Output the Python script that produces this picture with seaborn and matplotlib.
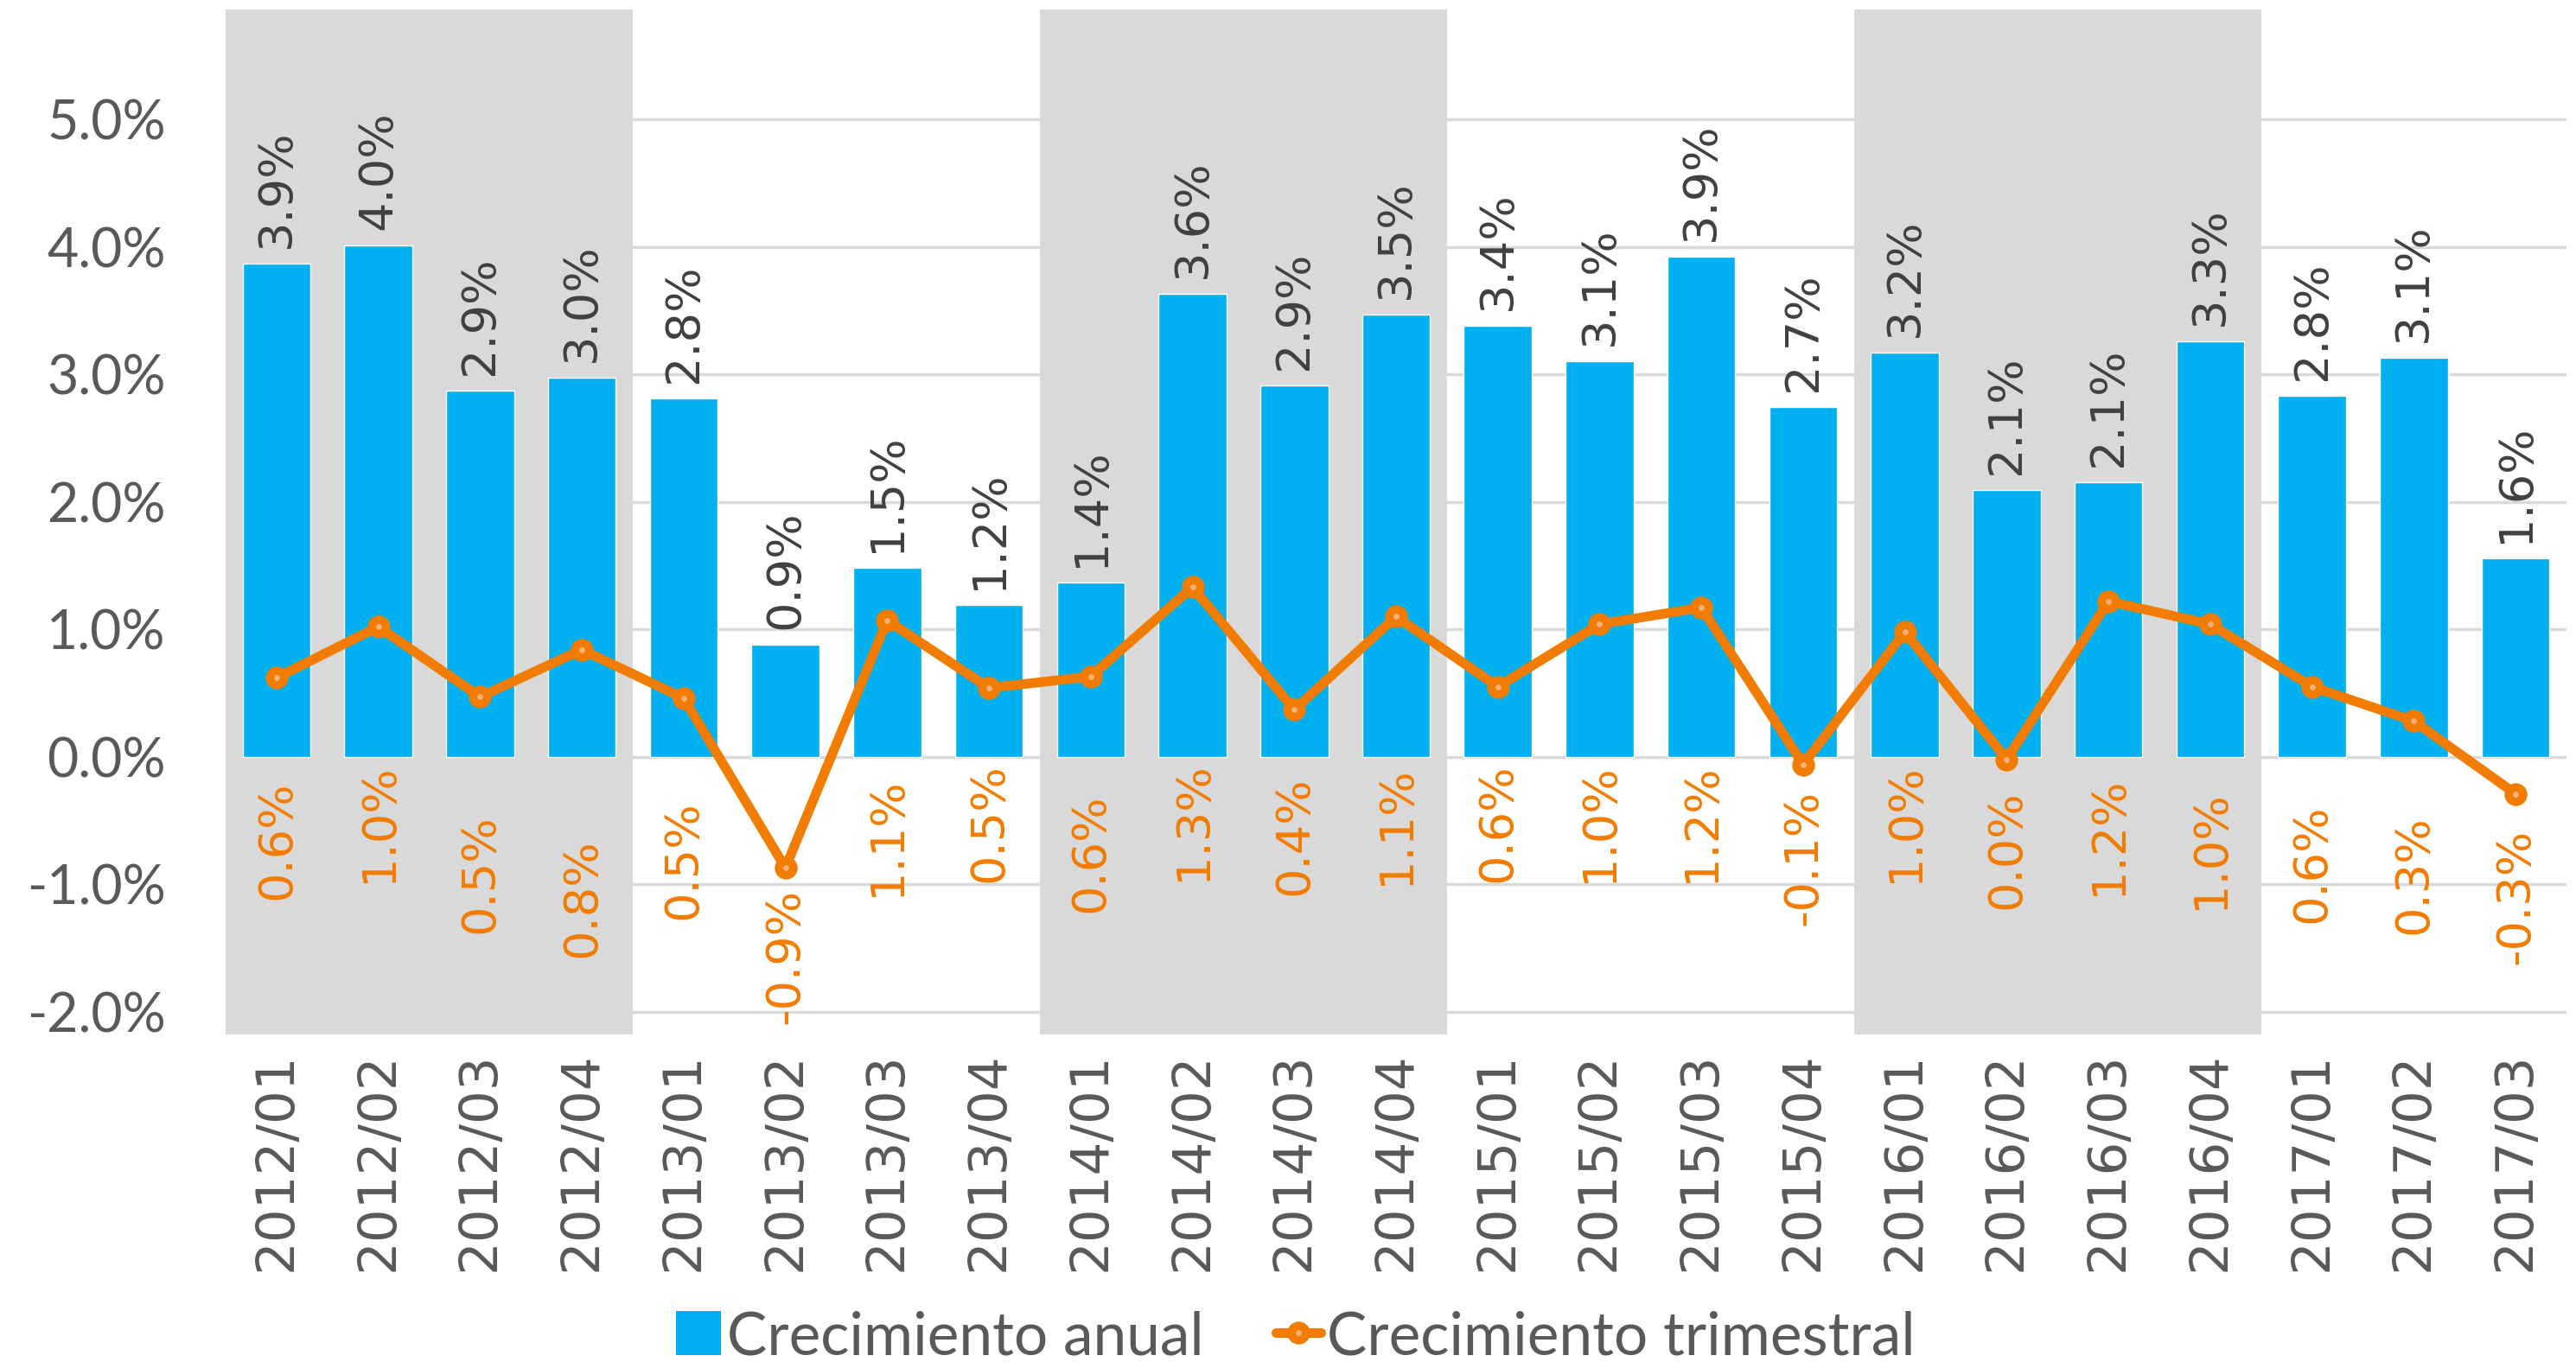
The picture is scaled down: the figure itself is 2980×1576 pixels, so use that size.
import numpy as np
import pandas as pd
import matplotlib
matplotlib.use("Agg")
import matplotlib.pyplot as plt
from matplotlib.patches import Patch
from matplotlib.lines import Line2D
import seaborn as sns

# data (in %)
quarters = ['2012/01', '2012/02', '2012/03', '2012/04',
            '2013/01', '2013/02', '2013/03', '2013/04',
            '2014/01', '2014/02', '2014/03', '2014/04',
            '2015/01', '2015/02', '2015/03', '2015/04',
            '2016/01', '2016/02', '2016/03', '2016/04',
            '2017/01', '2017/02', '2017/03']
anual = [3.87, 4.01, 2.87, 2.97, 2.81, 0.88, 1.48, 1.19, 1.37, 3.63, 2.91, 3.47,
         3.38, 3.10, 3.92, 2.74, 3.17, 2.09, 2.15, 3.26, 2.83, 3.13, 1.56]
trimestral = [0.62, 1.02, 0.47, 0.84, 0.46, -0.87, 1.07, 0.54, 0.63, 1.33, 0.37, 1.10,
              0.55, 1.04, 1.17, -0.06, 0.98, -0.02, 1.22, 1.04, 0.55, 0.28, -0.29]
shaded_years = ['2012', '2014', '2016']

# where the orange labels start (top of the rotated text), in axis units
trim_label_top = [-0.19, -0.05, -0.45, -0.64, -0.34, -1.03, -0.16, -0.05,
                  -0.29, -0.04, -0.15, -0.07, -0.05, -0.05, -0.05, -0.26,
                  -0.05, -0.26, -0.15, -0.26, -0.37, -0.46, -0.56]

df = pd.DataFrame({'trimestre': quarters, 'anual': anual, 'trimestral': trimestral})
df['pos'] = np.arange(len(df))

BLUE = '#00B0F0'
ORANGE = '#F27C00'
GREY = '#D9D9D9'
TXT = '#595959'


def pct(v):
    s = f'{v:.1f}%'
    return '0.0%' if s == '-0.0%' else s


sns.set_style('white')
plt.rcParams['font.family'] = ['DejaVu Sans']

fig = plt.figure(figsize=(29.8, 15.76), dpi=100)
ax = fig.add_axes([0.0876, 0.2402, 0.9087, 0.7528])

# gridlines first, the grey year bands go over them
for g in range(-2, 6):
    ax.axhline(g, color=GREY, lw=2.5, zorder=0)

years = df['trimestre'].str[:4]
for y in shaded_years:
    idx = df.loc[years == y, 'pos']
    ax.axvspan(idx.min() - 0.5, idx.max() + 0.5, color=GREY, lw=0, zorder=1)

sns.barplot(data=df, x='trimestre', y='anual', color=BLUE, saturation=1,
            width=0.667, ax=ax, zorder=2)
for p in ax.patches:
    p.set_zorder(2)

line_style = dict(color=ORANGE, lw=8, marker='o', markersize=12,
                  markeredgewidth=7, markerfacecolor='#F6B27A',
                  markeredgecolor=ORANGE)
sns.lineplot(x=df['pos'], y=df['trimestral'], sort=False, ax=ax, zorder=4,
             **line_style)

# labels
for i, v in enumerate(df['anual']):
    ax.annotate(pct(v), (i, v), xytext=(0, 13), textcoords='offset points',
                rotation=90, ha='center', va='bottom', fontsize=39,
                color='#404040', zorder=5)
for i, v in enumerate(df['trimestral']):
    ax.text(i, trim_label_top[i], pct(v), rotation=90, ha='center',
            va='top', fontsize=39, color=ORANGE, zorder=5)

ax.set_xlim(-0.5, len(df) - 0.5)
ax.set_ylim(-2.18, 5.86)
ax.set_yticks(range(-2, 6))
ax.set_yticklabels([f'{t:.1f}%' for t in range(-2, 6)], fontfamily='Lato',
                   fontsize=45, color=TXT)
ax.set_xticks(df['pos'])
ax.set_xticklabels(df['trimestre'], rotation=90, fontsize=44, color=TXT)
ax.tick_params(axis='y', length=0, pad=50)
ax.tick_params(axis='x', length=0, pad=14)
ax.set_xlabel('')
ax.set_ylabel('')
ax.grid(False)
for s in ax.spines.values():
    s.set_visible(False)

handles = [Patch(facecolor=BLUE, edgecolor='none', label='Crecimiento anual'),
           Line2D([0], [0], label='Crecimiento trimestral', **line_style)]
fig.legend(handles=handles, loc='center', bbox_to_anchor=(0.503, 0.018),
           ncol=2, frameon=False, prop={'family': 'Lato', 'size': 50},
           labelcolor=TXT, handlelength=0.75, handleheight=0.75,
           handletextpad=0.1, columnspacing=1.2)

fig.savefig('out.png', dpi=100)
